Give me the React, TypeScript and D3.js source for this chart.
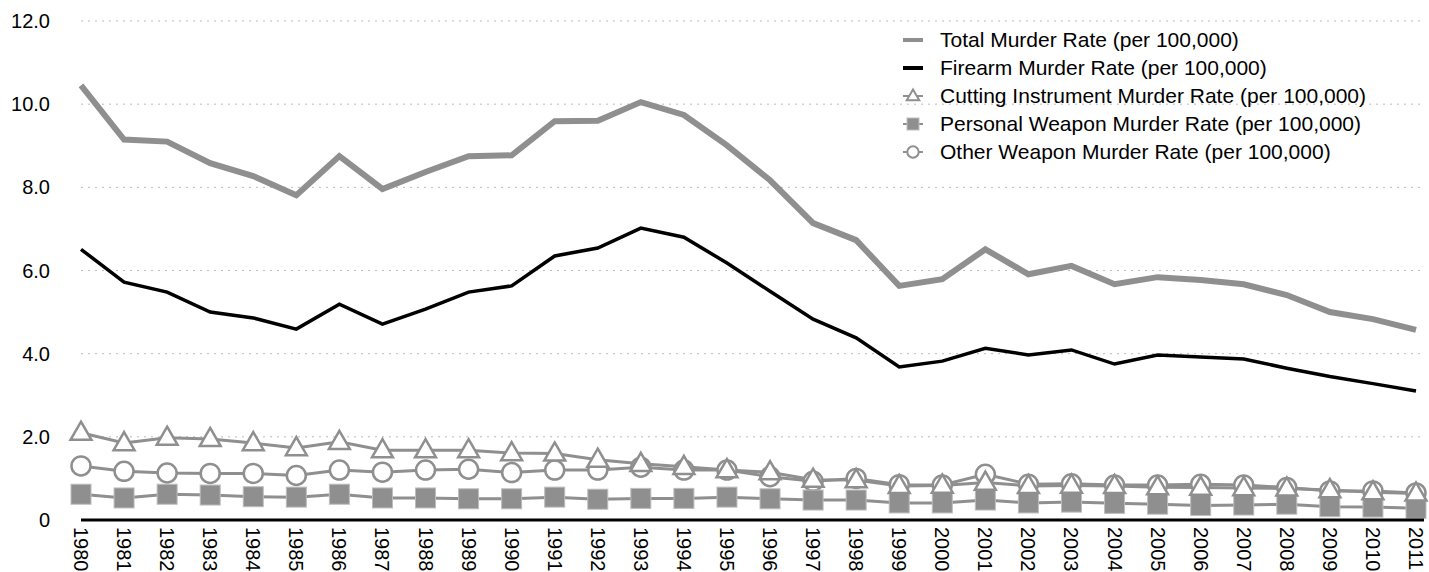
import React from 'react';
import * as d3 from 'd3';

const years = d3.range(1980, 2012).map(String);

const totalRate = [10.45, 9.15, 9.1, 8.58, 8.27, 7.81, 8.75, 7.96, 8.37, 8.75, 8.77, 9.59, 9.6, 10.05, 9.74, 9.01, 8.17, 7.14, 6.73, 5.63, 5.79, 6.51, 5.91, 6.11, 5.67, 5.84, 5.77, 5.67, 5.41, 5.0, 4.83, 4.57];
const firearmRate = [6.51, 5.72, 5.48, 5.0, 4.86, 4.59, 5.19, 4.71, 5.07, 5.48, 5.63, 6.35, 6.54, 7.02, 6.8, 6.18, 5.5, 4.83, 4.38, 3.68, 3.82, 4.13, 3.97, 4.09, 3.75, 3.97, 3.92, 3.87, 3.65, 3.45, 3.28, 3.1];
const cuttingRate = [2.1, 1.85, 1.98, 1.95, 1.85, 1.73, 1.88, 1.68, 1.68, 1.68, 1.61, 1.6, 1.45, 1.35, 1.28, 1.2, 1.15, 0.97, 0.96, 0.82, 0.83, 0.9, 0.82, 0.83, 0.82, 0.79, 0.78, 0.77, 0.76, 0.72, 0.67, 0.64];
const personalRate = [0.62, 0.53, 0.62, 0.6, 0.56, 0.55, 0.62, 0.53, 0.53, 0.51, 0.51, 0.55, 0.5, 0.52, 0.52, 0.55, 0.51, 0.48, 0.48, 0.41, 0.41, 0.48, 0.41, 0.43, 0.4, 0.38, 0.35, 0.36, 0.38, 0.32, 0.31, 0.28];
const otherRate = [1.3, 1.17, 1.13, 1.12, 1.12, 1.07, 1.2, 1.15, 1.2, 1.22, 1.14, 1.2, 1.2, 1.27, 1.2, 1.2, 1.04, 0.93, 1.0, 0.85, 0.84, 1.1, 0.86, 0.87, 0.84, 0.84, 0.86, 0.84, 0.78, 0.7, 0.7, 0.65];

const yTicks = [0, 2, 4, 6, 8, 10, 12];

const legendItems = [
  { label: 'Total Murder Rate (per 100,000)', kind: 'total' },
  { label: 'Firearm Murder Rate (per 100,000)', kind: 'firearm' },
  { label: 'Cutting Instrument Murder Rate (per 100,000)', kind: 'triangle' },
  { label: 'Personal Weapon Murder Rate (per 100,000)', kind: 'square' },
  { label: 'Other Weapon Murder Rate (per 100,000)', kind: 'circle' },
];

const GRAY = '#8f8f8f';
const FONT = '"Liberation Sans", Arial, Helvetica, sans-serif';

const x = d3.scalePoint<string>().domain(years).range([81, 1416]);
const y = d3.scaleLinear().domain([0, 12]).range([520, 21]);

const line = d3.line<number>()
  .x((_, i) => x(years[i]) as number)
  .y(d => y(d));

const tri = (cx: number, cy: number, r: number) =>
  `M${cx},${cy - r}L${cx + r * 0.95},${cy + r * 0.65}L${cx - r * 0.95},${cy + r * 0.65}Z`;

const Marker = ({ kind, cx, cy, small }: { kind: string; cx: number; cy: number; small?: boolean }) => {
  const s = small ? 0.6 : 1;
  if (kind === 'triangle')
    return <path d={tri(cx, cy, 11 * s)} fill="#fff" stroke={GRAY} strokeWidth={small ? 2 : 2.5} />;
  if (kind === 'circle')
    return <circle cx={cx} cy={cy} r={9.5 * s} fill="#fff" stroke={GRAY} strokeWidth={small ? 2 : 2.5} />;
  return <rect x={cx - 10 * s} y={cy - 10 * s} width={20 * s} height={20 * s} fill={GRAY} stroke="#bdbdbd" strokeWidth={1} />;
};

export default function App() {
  return (
    <svg width={1429} height={572} style={{ position: 'absolute', left: 0, top: 0, background: '#fff' }} fontFamily={FONT}>
      {/* grid */}
      {yTicks.filter(t => t > 0).map(t => (
        <line key={t} x1={81} x2={1424} y1={y(t)} y2={y(t)} stroke="#bbb" strokeWidth={1} strokeDasharray="2,5" />
      ))}
      {yTicks.map(t => (
        <text key={t} x={50} y={y(t)} dy="0.35em" textAnchor="end" fontSize={20} fill="#000">
          {t === 0 ? '0' : t.toFixed(1)}
        </text>
      ))}

      {/* small series */}
      <path d={line(otherRate) || ''} fill="none" stroke={GRAY} strokeWidth={3} />
      <path d={line(personalRate) || ''} fill="none" stroke={GRAY} strokeWidth={3} />
      <path d={line(cuttingRate) || ''} fill="none" stroke={GRAY} strokeWidth={3} />
      {otherRate.map((d, i) => <Marker key={'o' + i} kind="circle" cx={x(years[i]) as number} cy={y(d)} />)}
      {personalRate.map((d, i) => <Marker key={'p' + i} kind="square" cx={x(years[i]) as number} cy={y(d)} />)}
      {cuttingRate.map((d, i) => <Marker key={'c' + i} kind="triangle" cx={x(years[i]) as number} cy={y(d)} />)}

      {/* main series */}
      <path d={line(totalRate) || ''} fill="none" stroke={GRAY} strokeWidth={6} strokeLinejoin="miter" />
      <path d={line(firearmRate) || ''} fill="none" stroke="#000" strokeWidth={3.5} />

      {/* x axis */}
      <line x1={81} x2={1424} y1={y(0)} y2={y(0)} stroke="#000" strokeWidth={3} />
      {years.map(yr => (
        <text key={yr} transform={`translate(${x(yr)},${y(0) + 7}) rotate(90)`} dy="0.35em" fontSize={20} fill="#000">
          {yr}
        </text>
      ))}

      {/* legend */}
      {legendItems.map((it, i) => {
        const cy = 40 + i * 28;
        return (
          <g key={it.kind}>
            {it.kind === 'total' && <line x1={903} x2={923} y1={cy} y2={cy} stroke={GRAY} strokeWidth={4} />}
            {it.kind === 'firearm' && <line x1={903} x2={923} y1={cy} y2={cy} stroke="#000" strokeWidth={4} />}
            {['triangle', 'square', 'circle'].includes(it.kind) && (
              <>
                <line x1={903} x2={923} y1={cy} y2={cy} stroke={GRAY} strokeWidth={2} />
                <Marker kind={it.kind} cx={913} cy={cy} small />
              </>
            )}
            <text x={940} y={cy} dy="0.35em" fontSize={21} fill="#000">{it.label}</text>
          </g>
        );
      })}
    </svg>
  );
}
